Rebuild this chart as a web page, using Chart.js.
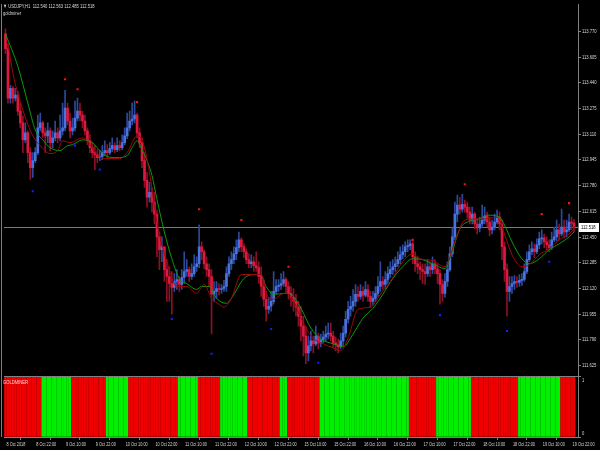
<!DOCTYPE html>
<html lang="en">
<head>
  <meta charset="UTF-8" />
  <title>USDJPY,H1 goldminer</title>
  <script src="https://cdn.jsdelivr.net/npm/chart.js"></script>
  <style>
    html, body { margin: 0; padding: 0; background: #000; }
    #wrap { width: 600px; height: 450px; }
  </style>
</head>
<body>
<div id="wrap"><canvas id="chart" width="600" height="450"></canvas></div>
<script>
  // bottom time axis, one label every 12 hourly bars
  const timeLabels = ['8 Oct 2018', '8 Oct 22:00', '9 Oct 10:00', '9 Oct 22:00', '10 Oct 10:00', '10 Oct 22:00',
    '11 Oct 10:00', '11 Oct 22:00', '12 Oct 10:00', '12 Oct 22:00', '15 Oct 10:00', '15 Oct 22:00',
    '16 Oct 10:00', '16 Oct 22:00', '17 Oct 10:00', '17 Oct 22:00', '18 Oct 10:00', '18 Oct 22:00',
    '19 Oct 10:00', '19 Oct 22:00'];
  const priceTicks = [111.625, 111.790, 111.955, 112.120, 112.285, 112.450, 112.615, 112.780, 112.945, 113.110, 113.275, 113.440, 113.605, 113.770];

  // H1 candles
  const opens = [113.755,113.660,113.342,113.405,113.342,113.361,113.259,113.183,113.074,113.119,
    112.992,112.896,112.941,112.992,113.151,113.183,113.119,113.100,113.132,113.056,
    113.087,113.119,113.087,113.132,113.151,113.278,113.195,113.132,113.151,113.214,
    113.259,113.233,113.195,113.132,113.068,113.024,112.992,112.979,112.960,112.967,
    112.992,113.005,112.992,113.018,113.037,113.011,113.037,113.024,113.056,113.100,
    113.151,113.195,113.208,113.233,113.119,113.056,112.941,112.814,112.706,112.738,
    112.674,112.597,112.451,112.369,112.388,112.241,112.197,112.152,112.127,112.165,
    112.178,112.146,112.191,112.229,112.241,112.197,112.216,112.260,112.279,112.388,
    112.356,112.279,112.241,112.197,112.083,112.102,112.120,112.114,112.120,112.133,
    112.216,112.279,112.305,112.343,112.382,112.432,112.388,112.356,112.305,112.279,
    112.292,112.267,112.254,112.197,112.133,112.051,111.987,112.006,112.038,112.102,
    112.133,112.140,112.152,112.178,112.133,112.089,112.064,112.038,112.000,111.942,
    111.879,111.815,111.707,111.752,111.784,111.765,111.815,111.771,111.790,111.809,
    111.828,111.834,111.815,111.771,111.759,111.746,111.784,111.834,111.923,111.987,
    112.006,112.038,112.083,112.070,112.102,112.077,112.114,112.070,112.038,112.057,
    112.089,112.133,112.165,112.146,112.178,112.216,112.241,112.260,112.279,112.305,
    112.337,112.356,112.388,112.395,112.407,112.324,112.279,112.260,112.241,112.229,
    112.216,112.260,112.241,112.279,112.247,112.216,112.146,112.089,112.165,112.241,
    112.343,112.451,112.597,112.655,112.630,112.661,112.642,112.610,112.559,112.597,
    112.534,112.509,112.534,112.559,112.585,112.547,112.496,112.515,112.547,112.578,
    112.534,112.388,112.241,112.102,112.133,112.152,112.165,112.159,112.172,112.178,
    112.229,112.305,112.356,112.375,112.356,112.401,112.439,112.445,112.420,112.401,
    112.382,112.432,112.451,112.496,112.470,112.515,112.483,112.496,112.547,112.540];
  const highs = [113.787,113.692,113.424,113.418,113.405,113.386,113.310,113.227,113.183,113.132,
    113.024,112.992,113.024,113.233,113.246,113.195,113.151,113.183,113.151,113.132,
    113.195,113.151,113.233,113.310,113.392,113.310,113.246,113.214,113.323,113.342,
    113.310,113.259,113.233,113.151,113.106,113.056,113.037,113.011,113.005,113.037,
    113.068,113.043,113.056,113.087,113.056,113.087,113.068,113.106,113.151,113.246,
    113.259,113.310,113.323,113.246,113.151,113.087,112.992,112.865,112.801,112.769,
    112.738,112.623,112.483,112.451,112.388,112.305,112.260,112.229,112.216,112.241,
    112.197,112.241,112.356,112.305,112.260,112.279,112.337,112.324,112.528,112.420,
    112.369,112.324,112.279,112.241,112.165,112.165,112.152,112.146,112.172,112.260,
    112.324,112.356,112.388,112.432,112.483,112.445,112.407,112.375,112.343,112.337,
    112.324,112.356,112.292,112.260,112.178,112.102,112.064,112.102,112.229,112.178,
    112.178,112.216,112.229,112.191,112.165,112.133,112.120,112.083,112.038,112.006,
    111.942,111.879,111.815,111.847,111.815,111.879,111.834,111.828,111.847,111.879,
    111.898,111.898,111.847,111.809,111.796,111.834,111.879,111.974,112.038,112.070,
    112.114,112.146,112.133,112.146,112.133,112.165,112.146,112.102,112.102,112.133,
    112.197,112.292,112.197,112.229,112.260,112.292,112.305,112.324,112.356,112.388,
    112.401,112.420,112.432,112.432,112.420,112.356,112.324,112.292,112.279,112.279,
    112.305,112.292,112.324,112.305,112.279,112.241,112.178,112.216,112.292,112.388,
    112.515,112.674,112.719,112.706,112.725,112.687,112.674,112.642,112.642,112.610,
    112.572,112.578,112.655,112.642,112.610,112.578,112.559,112.597,112.623,112.610,
    112.559,112.420,112.279,112.197,112.197,112.203,112.197,112.210,112.216,112.279,
    112.356,112.401,112.420,112.407,112.439,112.483,112.496,112.470,112.451,112.432,
    112.483,112.515,112.559,112.534,112.630,112.559,112.559,112.597,112.578,112.563];
  const lows = [113.628,113.310,113.310,113.310,113.323,113.233,113.151,112.992,113.056,112.928,
    112.820,112.833,112.928,112.979,113.132,113.087,112.992,113.056,113.005,113.024,
    113.068,113.056,113.068,113.106,113.132,113.170,113.087,113.106,113.132,113.195,
    113.195,113.151,113.106,113.043,112.992,112.960,112.883,112.928,112.941,112.947,
    112.973,112.960,112.979,112.999,112.992,112.999,113.005,113.011,113.043,113.081,
    113.132,113.170,113.183,113.087,113.024,112.896,112.769,112.642,112.674,112.610,
    112.534,112.324,112.241,112.292,112.165,112.038,112.038,111.955,112.102,112.114,
    112.102,112.114,112.152,112.197,112.165,112.178,112.197,112.229,112.254,112.305,
    112.247,112.197,112.133,111.828,112.038,112.057,112.077,112.089,112.102,112.102,
    112.197,112.241,112.279,112.305,112.356,112.356,112.318,112.279,112.254,112.254,
    112.229,112.229,112.152,112.070,112.006,111.911,111.961,111.974,112.019,112.083,
    112.102,112.114,112.133,112.089,112.051,112.006,111.974,111.942,111.879,111.784,
    111.688,111.637,111.656,111.720,111.707,111.752,111.733,111.746,111.771,111.784,
    111.796,111.784,111.739,111.720,111.707,111.733,111.752,111.809,111.898,111.942,
    111.974,112.006,112.038,112.051,112.038,112.064,112.038,112.000,112.013,112.038,
    112.070,112.102,112.114,112.120,112.152,112.191,112.210,112.229,112.260,112.279,
    112.311,112.324,112.356,112.369,112.279,112.229,112.216,112.178,112.152,112.146,
    112.197,112.197,112.216,112.216,112.152,112.019,112.038,112.064,112.133,112.229,
    112.324,112.432,112.547,112.597,112.610,112.610,112.572,112.534,112.534,112.502,
    112.470,112.483,112.509,112.534,112.515,112.458,112.470,112.496,112.534,112.496,
    112.305,112.165,111.942,112.038,112.089,112.114,112.127,112.133,112.140,112.165,
    112.216,112.292,112.337,112.318,112.343,112.375,112.407,112.382,112.369,112.356,
    112.369,112.420,112.426,112.432,112.458,112.445,112.451,112.483,112.496,112.485];
  const closes = [113.660,113.342,113.405,113.342,113.361,113.259,113.183,113.074,113.119,112.992,
    112.896,112.941,112.992,113.151,113.183,113.119,113.100,113.132,113.056,113.087,
    113.119,113.087,113.132,113.151,113.278,113.195,113.132,113.151,113.214,113.259,
    113.233,113.195,113.132,113.068,113.024,112.992,112.979,112.960,112.967,112.992,
    113.005,112.992,113.018,113.037,113.011,113.037,113.024,113.056,113.100,113.151,
    113.195,113.208,113.233,113.119,113.056,112.941,112.814,112.706,112.738,112.674,
    112.597,112.451,112.369,112.388,112.241,112.197,112.152,112.127,112.165,112.178,
    112.146,112.191,112.229,112.241,112.197,112.216,112.260,112.279,112.388,112.356,
    112.279,112.241,112.197,112.083,112.102,112.120,112.114,112.120,112.133,112.216,
    112.279,112.305,112.343,112.382,112.432,112.388,112.356,112.305,112.279,112.292,
    112.267,112.254,112.197,112.133,112.051,111.987,112.006,112.038,112.102,112.133,
    112.140,112.152,112.178,112.133,112.089,112.064,112.038,112.000,111.942,111.879,
    111.815,111.707,111.752,111.784,111.765,111.815,111.771,111.790,111.809,111.828,
    111.834,111.815,111.771,111.759,111.746,111.784,111.834,111.923,111.987,112.006,
    112.038,112.083,112.070,112.102,112.077,112.114,112.070,112.038,112.057,112.089,
    112.133,112.165,112.146,112.178,112.216,112.241,112.260,112.279,112.305,112.337,
    112.356,112.388,112.395,112.407,112.324,112.279,112.260,112.241,112.229,112.216,
    112.260,112.241,112.279,112.247,112.216,112.146,112.089,112.165,112.241,112.343,
    112.451,112.597,112.655,112.630,112.661,112.642,112.610,112.559,112.597,112.534,
    112.509,112.534,112.559,112.585,112.547,112.496,112.515,112.547,112.578,112.534,
    112.388,112.241,112.102,112.133,112.152,112.165,112.159,112.172,112.178,112.229,
    112.305,112.356,112.375,112.356,112.401,112.439,112.445,112.420,112.401,112.382,
    112.432,112.451,112.496,112.470,112.515,112.483,112.496,112.547,112.540,112.518];

  // goldminer lines: [bar, price]
  const maSlow = [[0,113.755],[5,113.545],[9,113.310],[12,113.138],[15,113.074],[18,113.024],[22,113.005],[25,113.037],
    [27,113.043],[31,113.074],[35,113.056],[38,113.005],[41,112.967],[45,112.960],[49,112.973],[51,113.024],[53,113.068],
    [55,113.011],[57,112.941],[59,112.846],[61,112.693],[64,112.483],[67,112.311],[70,112.184],[73,112.152],[77,112.114],
    [79,112.133],[82,112.133],[85,112.057],[89,112.025],[91,112.057],[96,112.184],[100,112.210],[103,112.203],[105,112.133],
    [108,112.083],[113,112.089],[115,112.083],[119,111.993],[123,111.866],[127,111.796],[132,111.765],[136,111.746],
    [140,111.828],[144,111.930],[148,111.993],[152,112.083],[156,112.184],[160,112.260],[164,112.311],[168,112.305],
    [172,112.279],[177,112.248],[179,112.311],[183,112.502],[187,112.553],[191,112.566],[194,112.591],[199,112.578],
    [201,112.528],[204,112.420],[208,112.311],[211,112.279],[215,112.311],[219,112.369],[223,112.407],[227,112.451],[229,112.483]];
  const maFast = [[1,113.692],[3,113.501],[7,113.265],[11,113.100],[14,113.037],[18,112.986],[21,113.005],[23,113.068],
    [26,113.056],[31,113.087],[33,113.068],[37,112.973],[41,112.954],[46,112.954],[49,112.992],[53,113.100],[55,113.074],
    [58,112.865],[61,112.547],[65,112.292],[69,112.133],[73,112.133],[77,112.089],[80,112.146],[83,112.057],[86,112.019],
    [88,112.000],[91,112.057],[95,112.210],[99,112.210],[103,112.210],[106,112.057],[108,112.051],[112,112.089],[115,112.070],
    [119,111.930],[123,111.815],[128,111.765],[132,111.739],[135,111.720],[138,111.803],[142,111.987],[147,112.000],
    [151,112.083],[155,112.165],[160,112.292],[164,112.343],[167,112.311],[172,112.299],[177,112.260],[181,112.420],
    [185,112.559],[189,112.566],[193,112.566],[198,112.578],[201,112.470],[204,112.337],[208,112.260],[211,112.273],
    [215,112.337],[219,112.375],[223,112.432],[227,112.470],[229,112.502]];

  // signal dots: [bar, price]
  const dotsSell = [[24,113.463],[29,113.399],[53,113.317],[78,112.629],[95,112.560],[114,112.260],[164,112.432],[185,112.789],[216,112.598],[227,112.668]];
  const dotsBuy = [[11,112.744],[28,113.037],[38,112.884],[67,111.924],[83,111.701],[107,111.860],[126,111.644],[175,111.949],[202,111.847],[219,112.292]];

  // lower window: runs of [bars, state] where 1 = green, 0 = red
  const gmRuns = [[15,0],[12,1],[14,0],[9,1],[20,0],[8,1],[9,0],[11,1],[13,0],[3,1],[13,0],[36,1],[11,0],[14,1],[19,0],[17,1],[6,0]];

  const gmState = [];
  gmRuns.forEach(([n, s]) => { for (let k = 0; k < n; k++) gmState.push(s); });

  const last = closes.length - 1;
  const isUp = opens.map((o, i) => closes[i] >= o);
  const wickData = highs.map((h, i) => ({ x: i, y: [lows[i], h] }));
  const bodyData = opens.map((o, i) => ({ x: i, y: [o, closes[i]] }));
  const gmData = gmState.map((s, i) => ({ x: i, y: 1 }));
  const pairs = arr => arr.map(([i, v]) => ({ x: i, y: v }));

  const FONT = "'Liberation Sans', 'DejaVu Sans', sans-serif";
  const AXIS = '#808080';
  const TEXT = '#d8d8d8';

  // MT4 draws its small terminal font narrow, so squeeze the text horizontally
  function squeeze(ctx, text, x, y, sx) {
    ctx.save();
    ctx.translate(x, y);
    ctx.scale(sx, 1);
    ctx.fillText(text, 0, 0);
    ctx.restore();
  }

  const mtDecor = {
    id: 'mtDecor',
    beforeDatasetsDraw(chart) {
      const { ctx, chartArea, scales } = chart;
      const y = Math.round(scales.y.getPixelForValue(closes[last])) + 0.5;
      ctx.save();
      ctx.strokeStyle = '#6f7c8c';
      ctx.lineWidth = 1;
      ctx.beginPath();
      ctx.moveTo(chartArea.left, y);
      ctx.lineTo(chartArea.right, y);
      ctx.stroke();
      ctx.restore();
    },
    afterDraw(chart) {
      const { ctx, chartArea, scales } = chart;
      ctx.save();
      // frame: left edge and window separator
      ctx.strokeStyle = AXIS;
      ctx.lineWidth = 1;
      ctx.beginPath();
      ctx.moveTo(1.5, chartArea.top);
      ctx.lineTo(1.5, chartArea.bottom);
      const sep = Math.round(scales.gm.top) - 0.5;
      ctx.moveTo(chartArea.left, sep);
      ctx.lineTo(chartArea.right, sep);
      ctx.stroke();

      ctx.font = '5.5px ' + FONT;
      ctx.fillStyle = TEXT;
      ctx.textBaseline = 'middle';
      ctx.textAlign = 'left';

      // price scale
      priceTicks.forEach(v => {
        squeeze(ctx, v.toFixed(3), chartArea.right + 4, scales.y.getPixelForValue(v), 0.75);
      });
      squeeze(ctx, '1', chartArea.right + 4, scales.gm.top + 4, 0.75);
      squeeze(ctx, '0', chartArea.right + 4, scales.gm.bottom - 4, 0.75);

      // time scale
      timeLabels.forEach((t, k) => {
        squeeze(ctx, t, scales.x.getPixelForValue(k * 12) + 1, chartArea.bottom + 7, 0.7);
      });

      // header
      const ohlc = [opens[last], highs[last], lows[last], closes[last]].map(v => v.toFixed(3)).join(' ');
      squeeze(ctx, '\u25BC USDJPY,H1  ' + ohlc, 3, 6, 0.75);
      squeeze(ctx, 'goldminer', 3, 13, 0.75);

      // lower window name
      ctx.fillStyle = '#ffd0d0';
      squeeze(ctx, 'GOLDMINER', 3, scales.gm.top + 6, 0.75);

      // current price box
      const y = Math.round(scales.y.getPixelForValue(closes[last]));
      ctx.fillStyle = '#ffffff';
      ctx.fillRect(chartArea.right + 1, y - 4, 20, 9);
      ctx.fillStyle = '#000000';
      squeeze(ctx, closes[last].toFixed(3), chartArea.right + 3, y + 0.5, 0.75);
      ctx.restore();
    }
  };

  const yAxisBase = {
    position: 'right',
    stack: 'pane',
    grid: { drawOnChartArea: false, drawTicks: true, tickLength: 3, color: AXIS },
    border: { display: true, color: AXIS },
    ticks: { display: false },
    afterFit: s => { s.width = 22; }
  };

  new Chart(document.getElementById('chart'), {
    type: 'bar',
    data: {
      datasets: [
        {
          label: 'Fast',
          type: 'line',
          data: pairs(maFast),
          borderColor: '#a00808',
          borderWidth: 1,
          pointRadius: 0,
          cubicInterpolationMode: 'monotone',
          yAxisID: 'y',
          order: 1
        },
        {
          label: 'Slow',
          type: 'line',
          data: pairs(maSlow),
          borderColor: '#0a9a0a',
          borderWidth: 1,
          pointRadius: 0,
          cubicInterpolationMode: 'monotone',
          yAxisID: 'y',
          order: 1
        },
        {
          label: 'Sell',
          type: 'line',
          data: pairs(dotsSell),
          showLine: false,
          pointStyle: 'rect',
          pointRadius: 1.5,
          pointBorderWidth: 0,
          pointBackgroundColor: '#ff1010',
          yAxisID: 'y',
          order: 0
        },
        {
          label: 'Buy',
          type: 'line',
          data: pairs(dotsBuy),
          showLine: false,
          pointStyle: 'rect',
          pointRadius: 1.5,
          pointBorderWidth: 0,
          pointBackgroundColor: '#1020ff',
          yAxisID: 'y',
          order: 0
        },
        {
          label: 'Body',
          data: bodyData,
          backgroundColor: isUp.map(u => u ? '#4a72e0' : '#e0183e'),
          barThickness: 2,
          minBarLength: 1,
          grouped: false,
          yAxisID: 'y',
          order: 2
        },
        {
          label: 'Wick',
          data: wickData,
          backgroundColor: isUp.map(u => u ? '#2c4a9c' : '#8c1028'),
          barThickness: 1,
          grouped: false,
          yAxisID: 'y',
          order: 3
        },
        {
          label: 'goldminer',
          data: gmData,
          backgroundColor: gmState.map(s => s ? '#00f000' : '#f00000'),
          barThickness: 2,
          grouped: false,
          yAxisID: 'gm',
          order: 4
        }
      ]
    },
    options: {
      responsive: false,
      devicePixelRatio: 1,
      animation: false,
      layout: { padding: 0 },
      plugins: { legend: { display: false }, tooltip: { enabled: false } },
      scales: {
        x: {
          type: 'linear',
          offset: false,
          min: -0.6,
          max: 230.6,
          grid: { drawOnChartArea: false, drawTicks: true, tickLength: 3, color: AXIS },
          border: { display: true, color: AXIS },
          ticks: { display: false },
          afterBuildTicks: s => { s.ticks = timeLabels.map((_, k) => ({ value: k * 12 })); },
          afterFit: s => { s.height = 13; }
        },
        y: Object.assign({}, yAxisBase, {
          min: 111.555,
          max: 113.946,
          stackWeight: 376,
          afterBuildTicks: s => { s.ticks = priceTicks.map(v => ({ value: v })); }
        }),
        gm: Object.assign({}, yAxisBase, {
          min: 0,
          max: 1,
          stackWeight: 61,
          afterBuildTicks: s => { s.ticks = [{ value: 0 }, { value: 1 }]; }
        })
      }
    },
    plugins: [mtDecor]
  });
</script>
</body>
</html>
